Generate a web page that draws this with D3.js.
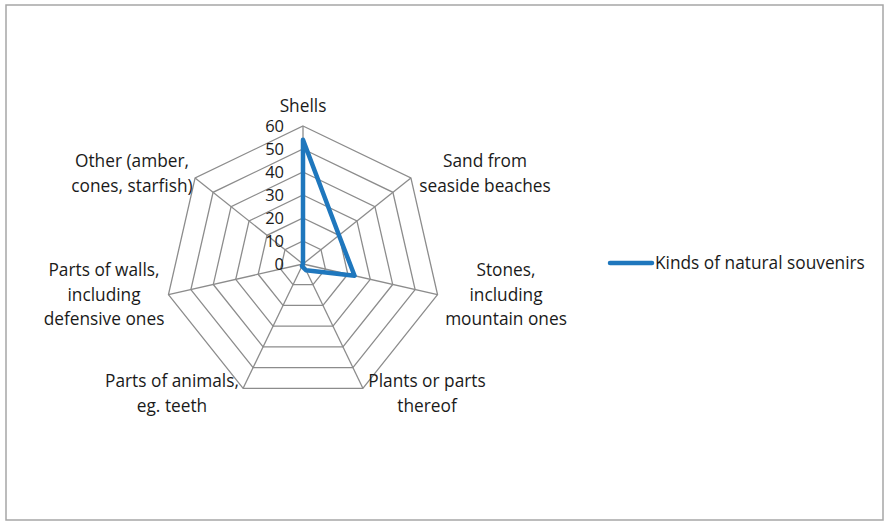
<!DOCTYPE html>
<html>
<head>
<meta charset="utf-8">
<script src="https://cdn.jsdelivr.net/npm/d3@7"></script>
<style>
  html, body { margin: 0; padding: 0; background: #fff; }
  svg { display: block; }
  text { font-family: "Open Sans", Lato, sans-serif; fill: #1a1a1a; }
</style>
</head>
<body>
<svg id="chart" width="884" height="522"></svg>
<script>
// Souvenir categories, one spoke each (clockwise from the top)
const categories = [
  ["Shells"],
  ["Sand from", "seaside beaches"],
  ["Stones,", "including", "mountain ones"],
  ["Plants or parts", "thereof"],
  ["Parts of animals,", "eg. teeth"],
  ["Parts of walls,", "including", "defensive ones"],
  ["Other (amber,", "cones, starfish)"]
];
const seriesName = "Kinds of natural souvenirs";
const seriesValues = [54, 20, 23, 3, 1, 0, 0];
const tickValues = [0, 10, 20, 30, 40, 50, 60];

const svg = d3.select("#chart");
const cx = 303, cy = 264, R = 138;
const n = categories.length;
const r = d3.scaleLinear().domain([0, 60]).range([0, R]);
const angle = d3.scaleLinear().domain([0, n]).range([0, 2 * Math.PI]);
const pt = (i, v) => [cx + r(v) * Math.sin(angle(i)), cy - r(v) * Math.cos(angle(i))];

// outer frame
svg.append("rect")
  .attr("x", 6).attr("y", 5).attr("width", 877).attr("height", 515)
  .attr("fill", "none").attr("stroke", "#a6a6a6").attr("stroke-width", 1.5);

const grid = svg.append("g").attr("fill", "none").attr("stroke", "#8c8c8c").attr("stroke-width", 1.3);

// rings
tickValues.filter(t => t > 0).forEach(t => {
  grid.append("path")
    .attr("d", d3.line()(d3.range(n).map(i => pt(i, t))) + "Z");
});
// spokes
d3.range(n).forEach(i => {
  grid.append("line")
    .attr("x1", cx).attr("y1", cy)
    .attr("x2", pt(i, 60)[0]).attr("y2", pt(i, 60)[1]);
});

// value labels along the first spoke
svg.append("g").selectAll("text").data(tickValues).join("text")
  .attr("x", cx - 19)
  .attr("y", d => cy - r(d))
  .attr("dy", "0.36em")
  .attr("text-anchor", "end")
  .attr("font-size", 16.5)
  .text(d => d);

// category labels
const labelPos = [
  { x: 303, y: 112 },
  { x: 485, y: 167 },
  { x: 506, y: 276 },
  { x: 427, y: 387 },
  { x: 172, y: 387 },
  { x: 104, y: 276 },
  { x: 132, y: 167 }
];
const lineH = 24.5;
const fs = 17.3;
categories.forEach((lines, i) => {
  const t = svg.append("text")
    .attr("text-anchor", "middle")
    .attr("font-size", fs);
  lines.forEach((s, k) => {
    t.append("tspan").attr("x", labelPos[i].x).attr("y", labelPos[i].y + k * lineH).text(s);
  });
});

// series polygon
svg.append("path")
  .attr("d", d3.line()(seriesValues.map((v, i) => pt(i, v))) + "Z")
  .attr("fill", "none")
  .attr("stroke", "#1f77bd")
  .attr("stroke-width", 4.5)
  .attr("stroke-linejoin", "round");

// legend
const lg = svg.append("g");
lg.append("line")
  .attr("x1", 610).attr("x2", 652).attr("y1", 263).attr("y2", 263)
  .attr("stroke", "#1f77bd").attr("stroke-width", 4.5).attr("stroke-linecap", "round");
lg.append("text")
  .attr("x", 655).attr("y", 263).attr("dy", "0.36em")
  .attr("font-size", fs)
  .text(seriesName);
</script>
</body>
</html>
